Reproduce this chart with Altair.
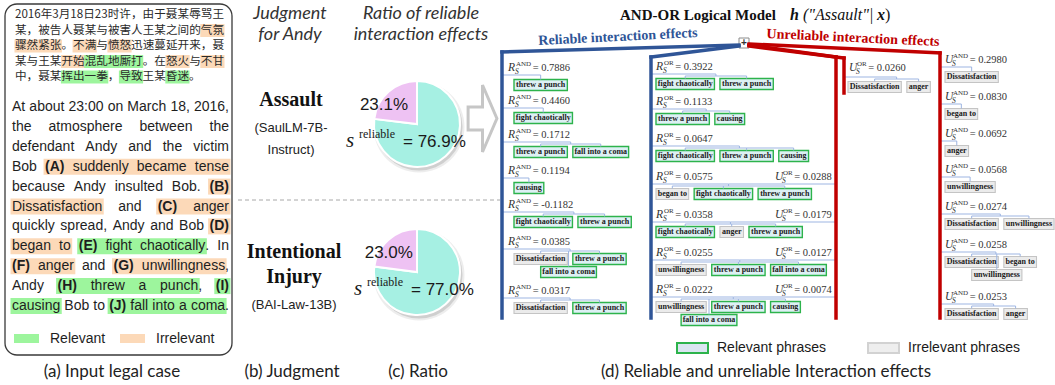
import re
import altair as alt
import pandas as pd

# ------------------------------------------------------------------ content
# (a) input legal case: segments tagged "" / "irr" (irrelevant) / "rel" (relevant)
case_zh = [
    [("2016年3月18日23时许，由于聂某辱骂王", "")],
    [("某，被告人聂某与被害人王某之间的", ""), ("气氛", "irr")],
    [("骤然紧张", "irr"), ("。", ""), ("不满", "irr"), ("与", ""), ("愤怒", "irr"), ("迅速蔓延开来，聂", "")],
    [("某与王某", ""), ("开始", "irr"), ("混乱地厮打", "rel"), ("。在", ""), ("怒火", "irr"), ("与", ""), ("不甘", "irr")],
    [("中，聂某", ""), ("挥出一拳", "rel"), ("，", ""), ("导致", "rel"), ("王某", ""), ("昏迷", "rel"), ("。", "")],
]
case_en = [
    [("At about 23:00 on March 18, 2016,", "")],
    [("the atmosphere between the", "")],
    [("defendant Andy and the victim", "")],
    [("Bob", ""), ("(A)", "irr"), ("suddenly became tense", "irr")],
    [("because Andy insulted Bob.", ""), ("(B)", "irr")],
    [("Dissatisfaction", "irr"), ("and", ""), ("(C)", "irr"), ("anger", "irr")],
    [("quickly spread, Andy and Bob", ""), ("(D)", "irr")],
    [("began to", "irr"), ("(E)", "rel"), ("fight chaotically", "rel"), (".", ""), ("In", "")],
    [("(F)", "irr"), ("anger", "irr"), ("and", ""), ("(G)", "irr"), ("unwillingness", "irr"), (",", "")],
    [("Andy", ""), ("(H)", "rel"), ("threw a punch", "rel"), (",", ""), ("(I)", "rel")],
    [("causing", "rel"), ("Bob to", ""), ("(J)", "rel"), ("fall into a coma", "rel"), (".", "")],
]
legend_a = [("Relevant", "rel"), ("Irrelevant", "irr")]

# (b) judgment and (c) ratio of reliable interaction effects
header_b = ["Judgment", "for Andy"]
header_c = ["Ratio of reliable", "interaction effects"]
judgments = [["Assault"], ["Intentional", "Injury"]]
models = [["(SaulLM-7B-", "Instruct)"], ["(BAI-Law-13B)"]]
reliable_pct = [76.9, 77.0]
unreliable_pct = [23.1, 23.0]

# (d) interaction effects of the AND-OR logical model
relevant_phrases = ["threw a punch", "fight chaotically", "fall into a coma", "causing"]
r_and_values = [0.7886, 0.4460, 0.1712, 0.1194, -0.1182, 0.0385, 0.0317]
r_and_sets = [
    ["threw a punch"],
    ["fight chaotically"],
    ["threw a punch", "fall into a coma"],
    ["causing"],
    ["fight chaotically", "threw a punch"],
    ["Dissatisfaction", "threw a punch", "fall into a coma"],
    ["Dissatisfaction", "threw a punch"],
]
r_or_values = [0.3922, 0.1133, 0.0647, 0.0575, 0.0358, 0.0255, 0.0222]
u_or_values = [None, None, None, 0.0288, 0.0179, 0.0127, 0.0074]
or_sets = [
    ["fight chaotically", "threw a punch"],
    ["threw a punch", "causing"],
    ["fight chaotically", "threw a punch", "causing"],
    ["began to", "fight chaotically", "threw a punch"],
    ["fight chaotically", "anger", "threw a punch"],
    ["unwillingness", "threw a punch", "fall into a coma"],
    ["unwillingness", "threw a punch", "causing", "fall into a coma"],
]
u_or_single_values = [0.0260]
u_or_single_sets = [["Dissatisfaction", "anger"]]
u_and_values = [0.2980, 0.0830, 0.0692, 0.0568, 0.0274, 0.0258, 0.0253]
u_and_sets = [
    ["Dissatisfaction"],
    ["began to"],
    ["anger"],
    ["unwillingness"],
    ["Dissatisfaction", "unwillingness"],
    ["Dissatisfaction", "began to", "unwillingness"],
    ["Dissatisfaction", "anger"],
]
legend_d = [("Relevant phrases", True), ("Irrelevant phrases", False)]
captions = ["(a) Input legal case", "(b) Judgment", "(c) Ratio",
            "(d) Reliable and unreliable Interaction effects"]

# ------------------------------------------------------------------ styling
SANS = "Liberation Sans"
SERIF = "Liberation Serif"
CAL = "Lato"
CJK = "Noto Sans CJK SC"
INK = "#1E1E1E"
HL = {"irr": "#FCD9B8", "rel": "#9DF59D"}
BLUE, RED, THIN = "#2F5597", "#C00000", "#9DB5E2"
REL_FILL, REL_STROKE = "#DDF0F4", "#2DB34C"
IRR_FILL, IRR_STROKE = "#EBEBEB", "#C4C4C4"
PIE_REL, PIE_UNREL = "#A6F0E3", "#EEC2F3"


def _table(groups):
    t = {}
    for w, chars in groups:
        for ch in chars:
            t[ch] = w
    return t


# glyph advance widths (1/1000 em) for the metric-compatible Liberation fonts
W_SANS = _table([(191, "'"), (222, "ijl"), (278, " ,.:;!/ftI"), (333, "()-r"),
                 (500, "cksvxyzJ"), (556, "abdeghnopqu0123456789L"), (584, "=+"),
                 (611, "FTZ"), (667, "ABEKPSVXY"), (722, "CDHNRUw"), (778, "GOQ"),
                 (833, "mM"), (889, "%"), (944, "W")])
W_SANS_B = _table([(278, " ,.I"), (333, "()"), (556, "J"), (611, "F"), (667, "E"),
                   (722, "ABCDH"), (778, "G")])
W_SERIF_B = _table([(250, " "), (278, "il"), (333, "jtf"), (389, "s"), (444, "ceorz"),
                    (500, "agvxy"), (556, "bdhknpqu"), (722, "wD"), (833, "m")])
W_SERIF = _table([(250, " ."), (333, "-"), (500, "0123456789"), (564, "="),
                  (667, "R"), (722, "ADNOU")])


def tw(s, table, fs):
    return sum(table.get(ch, 520) for ch in s) * fs / 1000.0


STYLES = {
    "zh": dict(font=CJK, align="center"),
    "en": dict(font=SANS, align="left"),
    "en_b": dict(font=SANS, fontWeight="bold", align="left"),
    "sans_c": dict(font=SANS, align="center"),
    "sans_bc": dict(font=SANS, fontWeight="bold", align="center"),
    "cap": dict(font=CAL, align="center"),
    "cap_i": dict(font=CAL, fontStyle="italic", align="center"),
    "serif_bc": dict(font=SERIF, fontWeight="bold", align="center"),
    "serif_b": dict(font=SERIF, fontWeight="bold", align="left"),
    "serif": dict(font=SERIF, align="left"),
    "serif_i": dict(font=SERIF, fontStyle="italic", align="left"),
    "serif_bi": dict(font=SERIF, fontWeight="bold", fontStyle="italic", align="left"),
    "blue_title": dict(font=SERIF, fontWeight="bold", align="center", angle=357.1),
    "red_title": dict(font=SERIF, fontWeight="bold", align="center", angle=2.7),
}
texts = {k: [] for k in STYLES}
rects = []     # x, x2, y, y2, fill, stroke, sw
thick = []     # thick connector lines
thin = []      # thin tree lines


def put(style, x, y, t, s, c=INK):
    texts[style].append(dict(x=x, y=y, t=t, s=s, c=c))


def rect(x, x2, y, y2, fill, stroke=None, sw=0.0):
    rects.append(dict(x=x, x2=x2, y=y, y2=y2, fill=fill, stroke=stroke or fill, sw=sw))


# ------------------------------------------------------------------ (a) case text
ZH_FS, ZH_X0, ZH_X1, ZH_Y0, ZH_DY = 11.6, 15, 224, 15, 15.5
for i, line in enumerate(case_zh):
    y = ZH_Y0 + i * ZH_DY
    chars = [(ch, hl) for seg, hl in line for ch in seg]
    ws = [ZH_FS * (0.55 if ch.isascii() else 1.0) for ch, _ in chars]
    extra = (ZH_X1 - ZH_X0 - sum(ws)) / (len(chars) - 1) if i < len(case_zh) - 1 else 0.0
    x = ZH_X0
    run = None
    for (ch, hl), w in zip(chars, ws):
        put("zh", x + w / 2, y, ch, ZH_FS, "#2A2A2A")
        if hl and run and run[0] == hl:
            run[2] = x + w
        else:
            if run:
                rect(run[1] - 0.5, run[2] + 0.5, y - 6.5, y + 6.5, HL[run[0]])
            run = [hl, x, x + w] if hl else None
        x += w + extra
    if run:
        rect(run[1] - 0.5, run[2] + 0.5, y - 6.5, y + 6.5, HL[run[0]])

EN_FS, EN_X0, EN_X1, EN_Y0, EN_DY = 14, 12, 229, 107, 19.9
for i, line in enumerate(case_en):
    y = EN_Y0 + i * EN_DY
    words = []
    for text, hl in line:
        if text in (".", ","):
            words[-1].append((text, False, ""))
            continue
        for tok in text.split(" "):
            words.append([(tok, re.fullmatch(r"\([A-J]\)", tok) is not None, hl)])
    pw = [[tw(t, W_SANS_B if b else W_SANS, EN_FS) for t, b, _ in wd] for wd in words]
    gap = (EN_X1 - EN_X0 - sum(sum(p) for p in pw)) / (len(words) - 1)
    x = EN_X0
    run = None
    for wd, wws in zip(words, pw):
        for (t, b, hl), w in zip(wd, wws):
            put("en_b" if b else "en", x, y, t, EN_FS)
            if hl and run and run[0] == hl:
                run[2] = x + w
            else:
                if run:
                    rect(run[1] - 1.5, run[2] + 1.5, y - 8, y + 8, HL[run[0]])
                run = [hl, x, x + w] if hl else None
            x += w
        x += gap
    if run:
        rect(run[1] - 1.5, run[2] + 1.5, y - 8, y + 8, HL[run[0]])

for (label, kind), lx in zip(legend_a, [14, 120]):
    rect(lx, lx + 25, 334, 343, HL[kind])
    put("en", lx + 36, 338.5, label, 14)

# ------------------------------------------------------------------ (b) judgment
HEAD_Y = [14, 35]
for line, y in zip(header_b, HEAD_Y):
    put("cap_i", 290, y, line, 18, "#333333")
for line, y in zip(header_c, HEAD_Y):
    put("cap_i", 421, y, line, 18, "#333333")

JUDGE_Y = [[100], [252, 277]]
MODEL_Y = [[128, 150], [305]]
JUDGE_X = [291, 294]
for g in range(2):
    for line, y in zip(judgments[g], JUDGE_Y[g]):
        put("serif_bc", JUDGE_X[g], y, line, 20, "#111111")
    for line, y in zip(models[g], MODEL_Y[g]):
        put("sans_c", JUDGE_X[g], y, line, 13, "#222222")

# ------------------------------------------------------------------ (c) pies
PIE_C = [(417, 124), (417, 272)]
PIE_R = 43
PIE_SHIFT = [0, 8]
shadow_rows = []
pie_layers = []
for g, (cx, cy) in enumerate(PIE_C):
    shadow_rows.append(dict(x=cx + 2, y=cy + 3))
    df = pd.DataFrame({"part": ["reliable", "unreliable"],
                       "v": [reliable_pct[g], unreliable_pct[g]],
                       "o": [0, 1], "c": [PIE_REL, PIE_UNREL]})
    pie_layers.append(
        alt.Chart(df).mark_arc(radius=PIE_R, stroke="white", strokeWidth=2).encode(
            theta=alt.Theta("v:Q", stack=True),
            order=alt.Order("o:Q"),
            color=alt.Color("c:N", scale=None),
            x=alt.value(cx), y=alt.value(cy)))
    sh = PIE_SHIFT[g]
    put("sans_c", cx - 33 + sh * 0.6, cy - 19, f"{unreliable_pct[g]:.1f}%", 17, "#1A1A1A")
    put("serif_i", cx - 71 + sh, cy + 17, "s", 21, "#1A1A1A")
    put("serif", cx - 58 + sh, cy + 10, "reliable", 12, "#1A1A1A")
    put("en", cx - 14 + sh, cy + 18, f"= {reliable_pct[g]:.1f}%", 17, "#1A1A1A")

# ------------------------------------------------------------------ (d) logical model
put("serif_b", 620, 15, "AND-OR Logical Model", 15, "#111111")
put("serif_bi", 790, 15, "h", 16, "#111111")
put("serif_i", 803, 15, '("Assault"|', 16, "#111111")
put("serif_bi", 877, 15, "x", 16, "#111111")
put("serif", 885, 15, ")", 16, "#111111")
put("blue_title", 618, 37, "Reliable interaction effects", 14, BLUE)
put("red_title", 853, 38, "Unreliable interaction effects", 14, RED)

PLUS = (744, 43)
COL1_X, COL2_X, U_OR_X, COL3_X, COL4_X = 502, 651, 836, 844, 940
BOTTOM = 318
for x0, y0, x1, y1, c in [
    (PLUS[0] - 5, PLUS[1] + 2, COL1_X, 52, BLUE), (COL1_X, 52, COL1_X, BOTTOM, BLUE),
    (PLUS[0] - 5, PLUS[1] + 3, COL2_X, 57, BLUE), (COL2_X, 57, COL2_X, BOTTOM, BLUE),
    (PLUS[0] + 5, PLUS[1] + 1, COL4_X, 53, RED), (COL4_X, 53, COL4_X, BOTTOM, RED),
    (PLUS[0] + 5, PLUS[1] + 2, U_OR_X, 57, RED), (U_OR_X, 57, U_OR_X, BOTTOM, RED),
    (PLUS[0] + 5, PLUS[1] + 3, COL3_X, 58, RED), (COL3_X, 58, COL3_X, 93, RED),
]:
    thick.append(dict(x=x0, y=y0, x2=x1, y2=y1, c=c))
rect(PLUS[0] - 5, PLUS[0] + 5, PLUS[1] - 5, PLUS[1] + 5, "white", "#8C8C8C", 1)
put("sans_bc", PLUS[0], PLUS[1], "+", 10, "#333333")

BOX_FS, BOX_PAD, BOX_GAP, BOX_H, ROW2_DY = 8.0, 2.0, 5.5, 11, 13


def place(phrases, x0, limit, y):
    out, x, ry = [], x0, y
    for p in phrases:
        w = tw(p, W_SERIF_B, BOX_FS) + 2 * BOX_PAD
        if out and x + w > limit and ry == y:
            x = out[0]["x"] + out[0]["w"] / 2
            ry = y + ROW2_DY
        out.append(dict(p=p, x=x, w=w, y=ry))
        x += w + BOX_GAP
    return out


def entry(phrases, x0, limit, box_y, line_from, line_to=None):
    boxes = place(phrases, x0, limit, box_y)
    centers = [b["x"] + b["w"] / 2 for b in boxes]
    lo, hi = min(centers), max(centers)
    mid = (lo + hi) / 2
    ys, yb = box_y - 10, box_y - 8
    segs = [(line_from, ys, mid, ys), (mid, ys, mid, yb), (lo, yb, hi, yb)]
    if line_to is not None:
        segs.append((mid, ys, line_to, ys))
    for c, b in zip(centers, boxes):
        segs.append((c, yb, c, b["y"] - BOX_H / 2))
    for s in segs:
        thin.append(dict(x=s[0], y=s[1], x2=s[2], y2=s[3]))
    for b in boxes:
        rel = b["p"] in relevant_phrases
        rect(b["x"], b["x"] + b["w"], b["y"] - BOX_H / 2, b["y"] + BOX_H / 2,
             REL_FILL if rel else IRR_FILL, REL_STROKE if rel else IRR_STROKE, 1.4 if rel else 1.1)
        put("serif_bc", b["x"] + b["w"] / 2, b["y"] + 0.3, b["p"], BOX_FS, "#1A1A1A")


def label(letter, sup, value, x, y):
    put("serif_i", x, y, letter, 11.5, "#333333")
    put("serif", x + 8, y - 4, sup, 7, "#333333")
    put("serif_i", x + 7, y + 3.5, "S", 7.5, "#333333")
    put("serif", x + 9.5 + tw(sup, W_SERIF, 7), y, f"= {value:.4f}", 10.5, "#333333")


C1_LABEL_Y = [68, 101, 135, 171, 205, 242, 291]
C2_LABEL_Y = [67, 102, 139, 177, 215, 253, 290]
C3_LABEL_Y = [68]
C4_LABEL_Y = [60, 97, 134, 170, 207, 245, 297]
BOX_DY = 17

for v, s, ly in zip(r_and_values, r_and_sets, C1_LABEL_Y):
    label("R", "AND", v, 508, ly)
    entry(s, 514, 646, ly + BOX_DY, COL1_X)
for rv, uv, s, ly in zip(r_or_values, u_or_values, or_sets, C2_LABEL_Y):
    label("R", "OR", rv, 656, ly)
    if uv is not None:
        label("U", "OR", uv, 775, ly)
    entry(s, 656, 838, ly + BOX_DY, COL2_X, U_OR_X if uv is not None else None)
for v, s, ly in zip(u_or_single_values, u_or_single_sets, C3_LABEL_Y):
    label("U", "OR", v, 849, ly)
    entry(s, 848, 936, ly + BOX_DY + 2, COL3_X)
for v, s, ly in zip(u_and_values, u_and_sets, C4_LABEL_Y):
    label("U", "AND", v, 945, ly)
    entry(s, 945, 1055, ly + BOX_DY, COL4_X)

for (txt, rel), lx in zip(legend_d, [677, 868]):
    rect(lx, lx + 31, 343, 353, "#DAE5F1" if rel else "#EEEEEE",
         REL_STROKE if rel else "#D2D2D2", 2)
    put("en", lx + 40, 348, txt, 14, "#1A1A1A")

# ------------------------------------------------------------------ captions
for txt, cx in zip(captions, [112, 292, 418, 766]):
    put("cap", cx, 372, txt, 17, "#222222")

# ------------------------------------------------------------------ build layers
X = lambda f="x": alt.X(f"{f}:Q", scale=None)
Y = lambda f="y": alt.Y(f"{f}:Q", scale=None)

frame = alt.Chart(pd.DataFrame([dict(x=5, x2=232, y=4, y2=355)])).mark_rect(
    cornerRadius=12, fillOpacity=0, stroke="#3A3A3A", strokeWidth=1.3
).encode(x=X(), x2="x2:Q", y=Y(), y2="y2:Q")

sep = alt.Chart(pd.DataFrame([dict(x=238, x2=500, y=200)])).mark_rule(
    stroke="#A8A8A8", strokeWidth=1, strokeDash=[4, 3]
).encode(x=X(), x2="x2:Q", y=Y())

rect_layer = alt.Chart(pd.DataFrame(rects)).mark_rect().encode(
    x=X(), x2="x2:Q", y=Y(), y2="y2:Q",
    color=alt.Color("fill:N", scale=None),
    stroke=alt.Stroke("stroke:N", scale=None),
    strokeWidth=alt.StrokeWidth("sw:Q", scale=None))

thin_layer = alt.Chart(pd.DataFrame(thin)).mark_rule(stroke=THIN, strokeWidth=1).encode(
    x=X(), x2="x2:Q", y=Y(), y2="y2:Q")

thick_layer = alt.Chart(pd.DataFrame(thick)).mark_rule(strokeWidth=3.5, strokeCap="square").encode(
    x=X(), x2="x2:Q", y=Y(), y2="y2:Q", color=alt.Color("c:N", scale=None))

shadow_df = pd.DataFrame(shadow_rows)
shadow = alt.layer(
    alt.Chart(shadow_df).mark_point(shape="circle", size=(2 * PIE_R + 5) ** 2, filled=True,
                                    color="#9A9A9A", opacity=0.18).encode(x=X(), y=Y()),
    alt.Chart(shadow_df).mark_point(shape="circle", size=(2 * PIE_R + 1) ** 2, filled=True,
                                    color="#8A8A8A", opacity=0.3).encode(x=X(), y=Y()),
)

ARROW = "M-0.43,-0.34L0,-0.34L0,-1L0.43,0L0,1L0,0.34L-0.43,0.34Z"
arrow = alt.Chart(pd.DataFrame([dict(x=482.5, y=118.5)])).mark_point(
    shape=ARROW, size=67 ** 2, filled=False, color="#C6C6C6", strokeWidth=3, opacity=1
).encode(x=X(), y=Y())

text_layers = []
for key, rows in texts.items():
    if not rows:
        continue
    text_layers.append(
        alt.Chart(pd.DataFrame(rows)).mark_text(baseline="middle", **STYLES[key]).encode(
            x=X(), y=Y(), text="t:N",
            size=alt.Size("s:Q", scale=None),
            color=alt.Color("c:N", scale=None)))

chart = alt.layer(
    rect_layer, frame, sep, thin_layer, thick_layer, shadow, *pie_layers, arrow, *text_layers
).properties(
    width=1055, height=385, padding=0, autosize=alt.AutoSizeParams(type="none"),
    background="white"
).configure_view(stroke=None)

chart.save("out.html", embed_options={"renderer": "svg", "actions": False})
